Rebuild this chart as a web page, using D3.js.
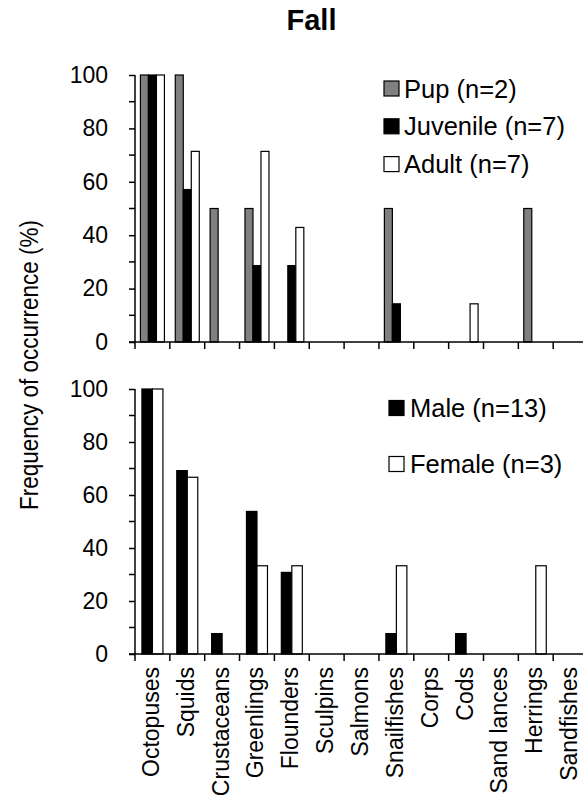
<!DOCTYPE html>
<html><head><meta charset="utf-8">
<script src="https://cdn.jsdelivr.net/npm/d3@7"></script>
<style>body{margin:0;background:#fff}svg{display:block;font-family:"Liberation Sans",Arial,sans-serif}</style>
</head><body>
<script>
const categories = ["Octopuses","Squids","Crustaceans","Greenlings","Flounders","Sculpins","Salmons","Snailfishes","Corps","Cods","Sand lances","Herrings","Sandfishes"];
const pup      = [100,100,50,50,0,0,0,50,0,0,0,50,0];
const juvenile = [100,57.1,0,28.6,28.6,0,0,14.3,0,0,0,0,0];
const adult    = [100,71.4,0,71.4,42.9,0,0,0,0,14.3,0,0,0];
const male     = [100,69.2,7.7,53.8,30.8,0,0,7.7,0,7.7,0,0,0];
const female   = [100,66.7,0,33.3,33.3,0,0,33.3,0,0,0,33.3,0];
const yTicks = [0,20,40,60,80,100];
const yMinor = [10,30,50,70,90];
const topSeries = [
  {name:"Pup (n=2)", values:pup, fill:"#808080"},
  {name:"Juvenile (n=7)", values:juvenile, fill:"#000000"},
  {name:"Adult (n=7)", values:adult, fill:"#ffffff"}
];
const bottomSeries = [
  {name:"Male (n=13)", values:male, fill:"#000000"},
  {name:"Female (n=3)", values:female, fill:"#ffffff"}
];

const W=583,H=807;
const svg=d3.select("body").append("svg").attr("width",W).attr("height",H);
const axisX=135, step=34.85;
const x=d3.scaleBand().domain(categories).range([axisX, axisX+step*categories.length]).paddingInner(0).paddingOuter(0);

svg.append("text").attr("x",311.5).attr("y",30).attr("text-anchor","middle")
  .attr("font-size",29).attr("font-weight","bold").text("Fall");

svg.append("text").attr("transform","translate(29,365) rotate(-90) scale(1,1.15)")
  .attr("text-anchor","middle").attr("dominant-baseline","central")
  .attr("font-size",22.5).text("Frequency of occurrence (%)");

function panel(series, y0, y100, barW, legend){
  const y=d3.scaleLinear().domain([0,100]).range([y0,y100]);
  const g=svg.append("g");
  const groupW=barW*series.length;
  const sub=d3.scaleBand().domain(series.map((s,i)=>i)).range([(step-groupW)/2,(step+groupW)/2]);
  series.forEach((s,si)=>{
    g.selectAll(null).data(categories.map((c,i)=>({c,v:s.values[i]})).filter(d=>d.v>0))
      .join("rect")
      .attr("x",d=>x(d.c)+sub(si)).attr("width",sub.bandwidth())
      .attr("y",d=>y(d.v)).attr("height",d=>y(0)-y(d.v))
      .attr("fill",s.fill).attr("stroke","#000").attr("stroke-width",1.2);
  });
  const ya=g.append("g").attr("transform",`translate(${axisX},0)`)
    .call(d3.axisLeft(y).tickValues(yTicks).tickSize(6).tickSizeOuter(0).tickPadding(21));
  ya.selectAll("path,line").attr("stroke","#000").attr("stroke-width",1.5);
  ya.selectAll("text").attr("font-size",23).attr("font-family","Liberation Sans, Arial, sans-serif").attr("fill","#000");
  ya.select(".domain").remove();
  g.append("line").attr("x1",axisX).attr("x2",axisX).attr("y1",y(100)).attr("y2",y(0)).attr("stroke","#000").attr("stroke-width",1.5);
  g.selectAll(null).data(yMinor).join("line")
    .attr("x1",axisX-6).attr("x2",axisX).attr("y1",d=>y(d)).attr("y2",d=>y(d))
    .attr("stroke","#000").attr("stroke-width",1.5);
  g.append("line").attr("x1",axisX-6).attr("x2",W).attr("y1",y(0)).attr("y2",y(0)).attr("stroke","#000").attr("stroke-width",1.5);
  g.selectAll(null).data(categories).join("line")
    .attr("x1",d=>x(d)).attr("x2",d=>x(d)).attr("y1",y(0)).attr("y2",y(0)+7)
    .attr("stroke","#000").attr("stroke-width",1.5);
  series.forEach((s,i)=>{
    const ly=legend.y+i*legend.dy;
    g.append("rect").attr("x",legend.x).attr("y",ly-7.5).attr("width",15).attr("height",15)
      .attr("fill",s.fill).attr("stroke","#000").attr("stroke-width",1.2);
    g.append("text").attr("x",legend.tx).attr("y",ly).attr("dominant-baseline","central")
      .attr("font-size",25.5).text(s.name);
  });
  return y;
}
panel(topSeries,342,75,8,{x:384,tx:404,y:88.5,dy:37.8});
panel(bottomSeries,654,389,10.5,{x:389,tx:410,y:408,dy:56});

svg.append("g").selectAll("text").data(categories).join("text")
  .attr("transform",d=>`translate(${x(d)+x.bandwidth()/2-1.5},667) rotate(-90)`)
  .attr("text-anchor","end").attr("dominant-baseline","central")
  .attr("font-size",23).text(d=>d);
</script>
</body></html>
